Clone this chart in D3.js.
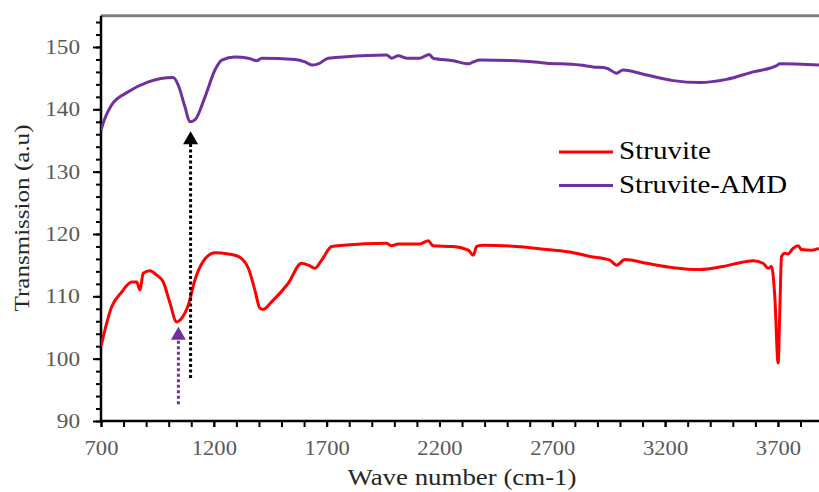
<!DOCTYPE html>
<html>
<head>
<script src="https://d3js.org/d3.v7.min.js"></script>
<style>
body { margin: 0; overflow: hidden; background: #fff; }
text { font-family: "Liberation Serif", "Times New Roman", serif; }
</style>
</head>
<body>
<script>
// data
const struviteWave = [700, 747, 792, 836, 858, 873, 887, 917, 947, 976, 1006, 1035, 1058, 1087, 1116, 1153, 1205, 1264, 1308, 1353, 1382, 1404, 1419, 1456, 1530, 1589, 1619, 1648, 1678, 1722, 1774, 1966, 1988, 2017, 2113, 2150, 2172, 2261, 2328, 2350, 2365, 2394, 2542, 2675, 2793, 2867, 2955, 2985, 3022, 3118, 3236, 3354, 3457, 3561, 3590, 3634, 3657, 3672, 3686, 3701, 3708, 3716, 3731, 3745, 3767, 3790, 3804, 3849, 3882];
const struviteT = [102.0, 108.3, 110.7, 112.3, 112.3, 111.0, 113.7, 114.1, 113.4, 112.3, 108.9, 105.9, 106.5, 108.6, 112.6, 115.6, 117.0, 116.8, 116.4, 114.5, 111.0, 108.1, 107.9, 109.1, 112.1, 115.3, 115.0, 114.5, 115.8, 118.0, 118.2, 118.5, 118.1, 118.4, 118.4, 118.9, 118.1, 118.0, 117.4, 116.6, 118.0, 118.2, 118.0, 117.5, 117.0, 116.4, 115.8, 115.0, 115.9, 115.3, 114.6, 114.3, 114.8, 115.6, 115.7, 115.3, 114.5, 114.8, 110.0, 99.3, 107.3, 116.4, 116.9, 116.8, 117.7, 118.1, 117.5, 117.4, 117.7];
const amdWave = [700, 703, 747, 821, 910, 1020, 1042, 1072, 1094, 1116, 1161, 1205, 1235, 1294, 1353, 1390, 1412, 1560, 1604, 1634, 1663, 1707, 1774, 1966, 1988, 2017, 2054, 2113, 2155, 2172, 2261, 2328, 2350, 2379, 2542, 2675, 2822, 2881, 2941, 2985, 3014, 3118, 3236, 3354, 3472, 3590, 3694, 3708, 3882];
const amdT = [136.6, 137.0, 140.7, 142.8, 144.4, 145.1, 143.9, 140.4, 138.0, 138.3, 142.0, 146.3, 147.9, 148.4, 148.2, 147.8, 148.2, 148.0, 147.6, 147.1, 147.3, 148.2, 148.4, 148.7, 148.2, 148.6, 148.2, 148.2, 148.8, 148.2, 147.8, 147.3, 147.6, 147.9, 147.8, 147.4, 147.1, 146.8, 146.6, 145.8, 146.3, 145.5, 144.6, 144.3, 144.8, 146.0, 147.0, 147.3, 147.1];

const seriesNames = ['Struvite', 'Struvite-AMD'];
const seriesColors = ['#ff0000', '#7030a0'];

const xTickValues = [700, 1200, 1700, 2200, 2700, 3200, 3700];
const yTickValues = [90, 100, 110, 120, 130, 140, 150];

// marker arrows: wavenumber, start value, tip value
const arrowWave = [1097, 1043];
const arrowFrom = [96.9, 92.7];
const arrowTo = [136.5, 105.1];
const arrowColors = ['#000000', '#7030a0'];

const width = 819, height = 492;
const svg = d3.select('body').append('svg').attr('width', width).attr('height', height);

const x = d3.scaleLinear().domain([700, 3882]).range([101, 819]);
const y = d3.scaleLinear().domain([90, 155]).range([421, 15.8]);

// top frame line
svg.append('line')
    .attr('x1', x(700)).attr('x2', width)
    .attr('y1', y(155)).attr('y2', y(155))
    .attr('stroke', '#7f7f7f').attr('stroke-width', 3);

// minor ticks
const xMinor = d3.axisBottom(x).tickValues(d3.range(700, 3900, 100)).tickSize(6).tickFormat('');
svg.append('g').attr('transform', `translate(0,${y(90)})`).call(xMinor)
    .call(g => g.select('.domain').remove())
    .selectAll('line').attr('stroke', '#000').attr('stroke-width', 2);

const yMinor = d3.axisLeft(y).tickValues(d3.range(90, 156, 2)).tickSize(5).tickFormat('');
svg.append('g').attr('transform', `translate(${x(700)},0)`).call(yMinor)
    .call(g => g.select('.domain').remove())
    .selectAll('line').attr('stroke', '#000').attr('stroke-width', 2);

// major axes
const xAxis = d3.axisBottom(x).tickValues(xTickValues).tickSize(6).tickPadding(14).tickFormat(d3.format('d'));
const gx = svg.append('g').attr('transform', `translate(0,${y(90)})`).call(xAxis);
gx.select('.domain').attr('stroke', '#000').attr('stroke-width', 2.5).attr('d', `M${x(700)},0H${width}`);
gx.selectAll('line').attr('stroke', '#000').attr('stroke-width', 2);
gx.selectAll('text').attr('font-size', 20).attr('fill', '#595959')
    .attr('textLength', d => String(d).length * 11.3).attr('lengthAdjust', 'spacingAndGlyphs');

const yAxis = d3.axisLeft(y).tickValues(yTickValues).tickSize(8).tickPadding(13).tickFormat(d3.format('d'));
const gy = svg.append('g').attr('transform', `translate(${x(700)},0)`).call(yAxis);
gy.select('.domain').attr('stroke', '#000').attr('stroke-width', 2.5).attr('d', `M0,${y(155)}V${y(90)}`);
gy.selectAll('line').attr('stroke', '#000').attr('stroke-width', 2);
gy.selectAll('text').attr('font-size', 20).attr('fill', '#595959')
    .attr('textLength', d => String(d).length * 11.6).attr('lengthAdjust', 'spacingAndGlyphs');

// axis titles
svg.append('text')
    .attr('x', 462).attr('y', 485)
    .attr('text-anchor', 'middle').attr('font-size', 23).attr('fill', '#262626')
    .attr('textLength', 229).attr('lengthAdjust', 'spacingAndGlyphs')
    .text('Wave number (cm-1)');

svg.append('text')
    .attr('transform', 'translate(29,218) rotate(-90)')
    .attr('text-anchor', 'middle').attr('font-size', 22).attr('fill', '#262626')
    .attr('textLength', 187).attr('lengthAdjust', 'spacingAndGlyphs')
    .text('Transmission (a.u)');

// spectra
svg.append('clipPath').attr('id', 'plot')
    .append('rect').attr('x', x(700)).attr('y', y(155)).attr('width', width - x(700)).attr('height', y(90) - y(155));

const line = d3.line().x(d => x(d[0])).y(d => y(d[1])).curve(d3.curveMonotoneX);
const series = [d3.zip(struviteWave, struviteT), d3.zip(amdWave, amdT)];

svg.append('g').attr('clip-path', 'url(#plot)')
    .selectAll('path').data(series).join('path')
    .attr('d', line)
    .attr('fill', 'none')
    .attr('stroke', (d, i) => seriesColors[i])
    .attr('stroke-width', 3)
    .attr('stroke-linejoin', 'round');

// arrows
arrowWave.forEach((w, i) => {
    const ax = x(w), tip = y(arrowTo[i]);
    svg.append('line')
        .attr('x1', ax).attr('x2', ax)
        .attr('y1', y(arrowFrom[i])).attr('y2', tip + 12)
        .attr('stroke', arrowColors[i]).attr('stroke-width', 3)
        .attr('stroke-dasharray', '3,2.5');
    svg.append('path')
        .attr('d', `M${ax},${tip}L${ax - 7.5},${tip + 13}L${ax + 7.5},${tip + 13}Z`)
        .attr('fill', arrowColors[i]);
});

// legend
const legend = svg.append('g');
seriesNames.forEach((name, i) => {
    const ly = 152 + i * 33.5;
    legend.append('line')
        .attr('x1', 559).attr('x2', 613).attr('y1', ly).attr('y2', ly)
        .attr('stroke', seriesColors[i]).attr('stroke-width', 3);
    legend.append('text')
        .attr('x', 619).attr('y', ly + 7)
        .attr('font-size', 25).attr('fill', '#000')
        .attr('textLength', i === 0 ? 92 : 168).attr('lengthAdjust', 'spacingAndGlyphs')
        .text(name);
});
</script>
</body>
</html>
